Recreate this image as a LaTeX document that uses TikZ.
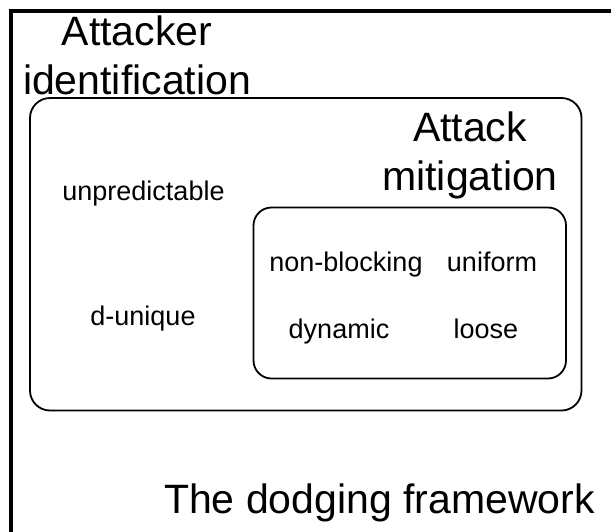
\documentclass[tikz,border=0pt]{standalone}
\usepackage{fontspec}
\setmainfont{Liberation Sans}

\begin{document}
\begin{tikzpicture}[x=1pt,y=-1pt,
  big/.style={font=\fontsize{41}{49}\selectfont,align=center,inner sep=0pt,anchor=base},
  small/.style={font=\fontsize{27}{32}\selectfont,inner sep=0pt,anchor=base}]
\useasboundingbox (0,0) rectangle (611,531);
\clip (0,0) rectangle (611,531);
% the three boxes
\draw [line width=4pt] (10.5,10.5) rectangle (640,560);
\draw [line width=1.8pt,rounded corners=20pt] (30,98) rectangle (581.5,410.5);
\draw [line width=1.8pt,rounded corners=18pt] (253.5,207.5) rectangle (566,378.5);
% labels
\node [big] (identification) at (137,94) {Attacker\\identification};
\node [big] (mitigation) at (470,190) {Attack\\mitigation};
\node [big] (framework) at (379.5,513) {The dodging framework};
\node [small] (unpredictable) at (143.5,200) {unpredictable};
\node [small] (dunique) at (143,325) {d-unique};
\node [small] (nonblocking) at (346,271) {non-blocking};
\node [small] (uniform) at (492,271) {uniform};
\node [small] (dynamic) at (339,338) {dynamic};
\node [small] (loose) at (486,338) {loose};
\end{tikzpicture}
\end{document}
